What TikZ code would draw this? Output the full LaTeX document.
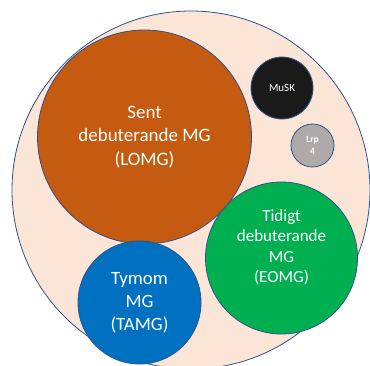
\documentclass[tikz,border=0pt]{standalone}
\usepackage{fontspec}
\setmainfont{Carlito}
\usepackage{xcolor}
\usetikzlibrary{positioning}

\definecolor{kant}{HTML}{2F528F}
\definecolor{persika}{HTML}{FBE5D6}
\definecolor{brandgul}{HTML}{C55A11}
\definecolor{gron}{HTML}{00B050}
\definecolor{bla}{HTML}{0070C0}
\definecolor{gra}{HTML}{AEAAAA}
\definecolor{svart}{HTML}{1A1A1A}

\tikzset{
  bubbla/.style={circle, draw=kant, line width=0.8pt, inner sep=0pt, text=white, align=center},
  etikett/.style={text=white, align=center}
}

\begin{document}
\begin{tikzpicture}[x=1pt, y=-1pt]
  \useasboundingbox (0,0) rectangle (370,365);
  \clip (0,0) rectangle (370,365);

  % Yttre cirkel
  \node[bubbla, fill=persika, minimum size=358pt] (mg) at (191,190) {};

  % Sent debuterande
  \node[bubbla, fill=brandgul, minimum size=214pt, font=\fontsize{19}{23.5}\selectfont] (lomg) at (144.5,137)
    {Sent\\debuterande MG\\(LOMG)};

  % MuSK och Lrp4
  \node[bubbla, fill=svart, minimum size=62pt, font=\fontsize{11}{13}\selectfont] (musk) at (282,88) {MuSK};
  \node[bubbla, fill=gra, minimum size=43pt, font=\bfseries\fontsize{9.5}{12}\selectfont] (lrp) at (312.5,145.5) {Lrp\\4};

  % Tidigt debuterande
  \node[bubbla, fill=gron, minimum size=152pt] (eomg) at (281.5,258) {};
  \node[etikett, font=\fontsize{17}{20.5}\selectfont] (eomgtext) at ([yshift=10.5pt]eomg.center)
    {Tidigt\\debuterande\\MG\\(EOMG)};

  % Tymom
  \node[bubbla, fill=bla, minimum size=123pt, font=\fontsize{18.8}{23}\selectfont] (tamg) at (139.5,302.5)
    {Tymom\\MG\\(TAMG)};
\end{tikzpicture}
\end{document}
